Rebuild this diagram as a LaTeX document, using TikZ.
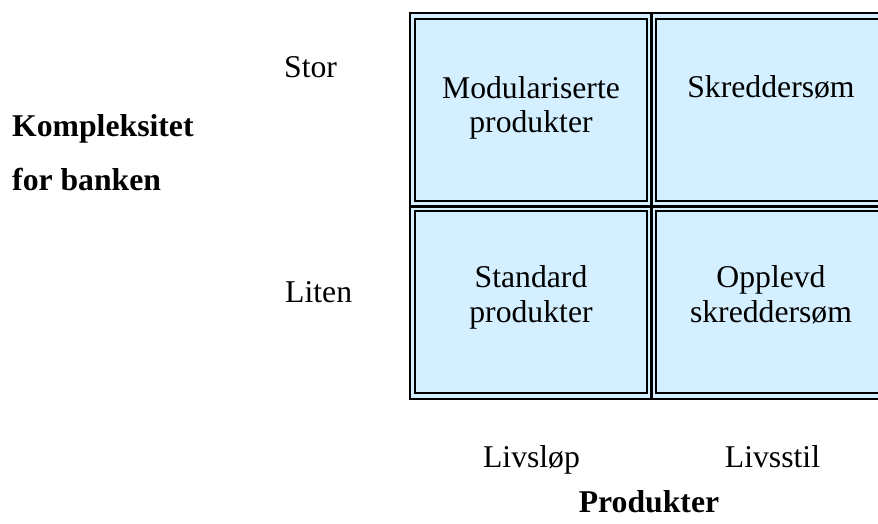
\documentclass[tikz,border=0pt]{standalone}
\usepackage{fontspec}
\setmainfont{Liberation Serif}
\definecolor{cellblue}{RGB}{212,239,255}
\begin{document}
\begin{tikzpicture}[x=1pt,y=-1pt,
  txt/.style={inner sep=0pt,font=\fontsize{31.7}{35}\selectfont,align=center},
  btxt/.style={txt,font=\fontsize{31.7}{35}\selectfont\bfseries},
  cell/.style={draw=black,line width=2.6pt,fill=cellblue,minimum width=232pt,minimum height=182pt,inner sep=0pt}]
\useasboundingbox (0,0) rectangle (878,524);
\begin{scope}
\clip (0,0) rectangle (878,524);
\path[fill=cellblue,draw=black,line width=2pt] (409.5,13) rectangle (893,399);
\draw[line width=3pt] (651,13) -- (651,399);
\draw[line width=3pt] (409.5,206) -- (893,206);
\node[cell] (c11) at (531,110) {};
\node[cell] (c12) at (772,110) {};
\node[cell] (c21) at (531,302) {};
\node[cell] (c22) at (772,302) {};
\end{scope}
\node[txt,anchor=base] (t11) at (531,133) {Modulariserte\\produkter};
\node[txt,anchor=base] (t12) at (771,98) {Skreddersøm};
\node[txt,anchor=base] (t21) at (531,322) {Standard\\produkter};
\node[txt,anchor=base] (t22) at (771,322) {Opplevd\\skreddersøm};
\node[txt,anchor=base west] (stor) at (284,78) {Stor};
\node[txt,anchor=base west] (liten) at (285,302) {Liten};
\node[btxt,anchor=base west,align=left] (kb) at (12,137) {Kompleksitet};
\node[btxt,anchor=base west,align=left] (kb2) at (12,190) {for banken};
\node[txt,anchor=base] (l1) at (531.5,467) {Livsløp};
\node[txt,anchor=base] (l2) at (772.5,467) {Livsstil};
\node[btxt,anchor=base] (prod) at (649,512) {Produkter};
\end{tikzpicture}
\end{document}
